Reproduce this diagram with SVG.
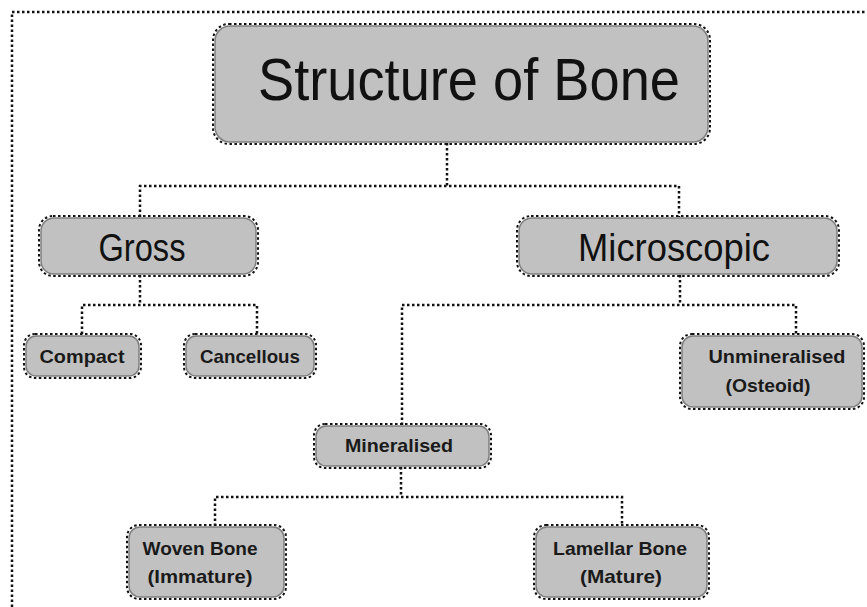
<svg xmlns="http://www.w3.org/2000/svg" width="867" height="607" viewBox="0 0 867 607">
<style>
.bx{fill:#c1c1c1;stroke:#7d7d7d;stroke-width:1.5}
.bo{fill:none;stroke:#111;stroke-width:2;stroke-dasharray:2.5 2.5}
.ln{fill:none;stroke:#111;stroke-width:2.5;stroke-dasharray:2.5 2.5}
.big{font-family:"Liberation Sans","Open Sans",sans-serif;fill:#111;text-anchor:middle}
.sm{font-family:"Liberation Sans","Open Sans",sans-serif;font-weight:bold;fill:#1a1a1a;text-anchor:middle;font-size:19px}
</style>
<rect width="867" height="607" fill="#fff"/>
<g id="frame"><path class="ln" d="M12 607 V12 H867"/></g>
<g id="connectors">
<path class="ln" d="M447 143 V186 M140 217 V186 H679 V217"/>
<path class="ln" d="M140 275 V305 M82 334 V305 H257 V334"/>
<path class="ln" d="M680 275 V305 M402 425 V305 H796 V334"/>
<path class="ln" d="M401 467 V497 M215 526 V497 H622 V526"/>
</g>
<g id="title">
<rect class="bx" x="215" y="26" width="493" height="116" rx="15"/>
<rect class="bo" x="213" y="24" width="497" height="120" rx="16"/>
<text class="big" x="469" y="100" font-size="60" textLength="422" lengthAdjust="spacingAndGlyphs">Structure of Bone</text>
</g>
<g id="gross">
<rect class="bx" x="41" y="218" width="215" height="56" rx="13"/>
<rect class="bo" x="39" y="216" width="219" height="60" rx="14"/>
<text class="big" x="142" y="261" font-size="38" textLength="87" lengthAdjust="spacingAndGlyphs">Gross</text>
</g>
<g id="microscopic">
<rect class="bx" x="519" y="218" width="318" height="56" rx="13"/>
<rect class="bo" x="517" y="216" width="322" height="60" rx="14"/>
<text class="big" x="674" y="261" font-size="38" textLength="192" lengthAdjust="spacingAndGlyphs">Microscopic</text>
</g>
<g id="compact">
<rect class="bx" x="26" y="336" width="113" height="40" rx="10"/>
<rect class="bo" x="24" y="334" width="117" height="44" rx="11"/>
<text class="sm" x="82" y="363" textLength="85" lengthAdjust="spacingAndGlyphs">Compact</text>
</g>
<g id="cancellous">
<rect class="bx" x="186" y="336" width="128" height="40" rx="10"/>
<rect class="bo" x="184" y="334" width="132" height="44" rx="11"/>
<text class="sm" x="250" y="363" textLength="100" lengthAdjust="spacingAndGlyphs">Cancellous</text>
</g>
<g id="unmineralised">
<rect class="bx" x="682" y="336" width="180" height="71" rx="11"/>
<rect class="bo" x="680" y="334" width="184" height="75" rx="12"/>
<text class="sm" x="777" y="363" textLength="137" lengthAdjust="spacingAndGlyphs">Unmineralised</text>
<text class="sm" x="768" y="392" textLength="85" lengthAdjust="spacingAndGlyphs">(Osteoid)</text>
</g>
<g id="mineralised">
<rect class="bx" x="316" y="426" width="173" height="40" rx="10"/>
<rect class="bo" x="314" y="424" width="177" height="44" rx="11"/>
<text class="sm" x="399" y="452" textLength="108" lengthAdjust="spacingAndGlyphs">Mineralised</text>
</g>
<g id="woven">
<rect class="bx" x="129" y="527" width="155" height="70" rx="11"/>
<rect class="bo" x="127" y="525" width="159" height="74" rx="12"/>
<text class="sm" x="200" y="555" textLength="115" lengthAdjust="spacingAndGlyphs">Woven Bone</text>
<text class="sm" x="200" y="583" textLength="105" lengthAdjust="spacingAndGlyphs">(Immature)</text>
</g>
<g id="lamellar">
<rect class="bx" x="536" y="527" width="171" height="70" rx="11"/>
<rect class="bo" x="534" y="525" width="175" height="74" rx="12"/>
<text class="sm" x="620" y="555" textLength="134" lengthAdjust="spacingAndGlyphs">Lamellar Bone</text>
<text class="sm" x="621" y="583" textLength="82" lengthAdjust="spacingAndGlyphs">(Mature)</text>
</g>
</svg>
